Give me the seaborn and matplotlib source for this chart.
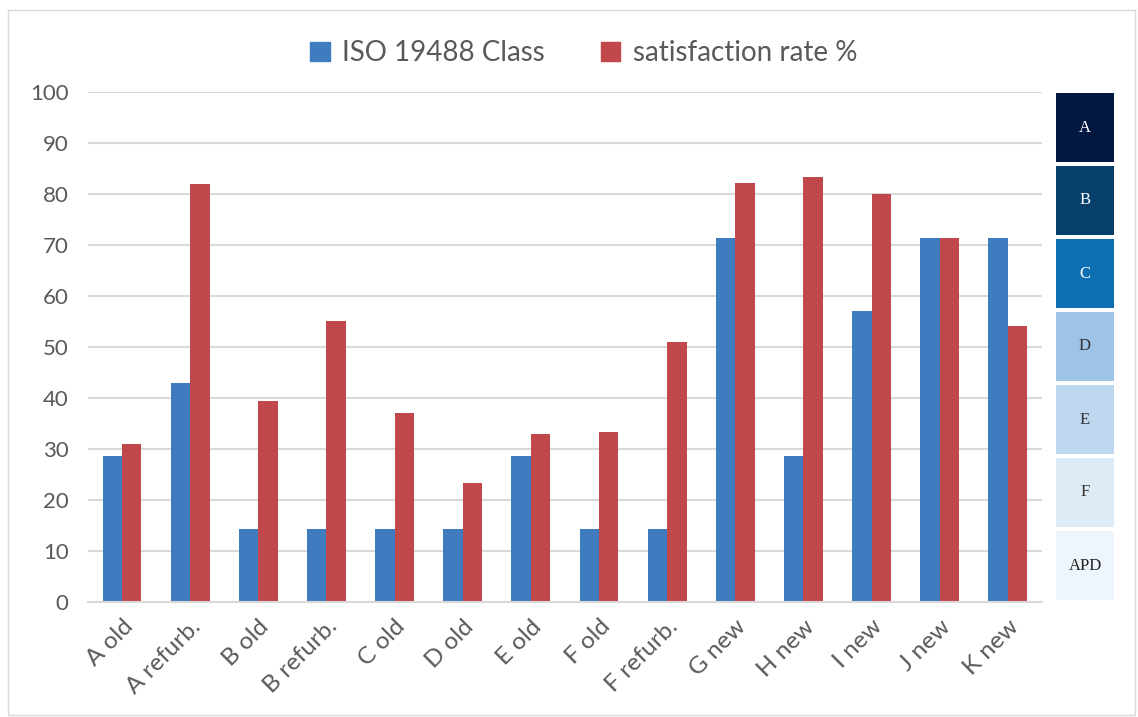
import pandas as pd
import matplotlib.pyplot as plt
import seaborn as sns
from matplotlib.patches import Rectangle, Patch

# data
buildings = ["A old", "A refurb.", "B old", "B refurb.", "C old", "D old", "E old",
             "F old", "F refurb.", "G new", "H new", "I new", "J new", "K new"]
iso_class = [28.6, 42.9, 14.3, 14.3, 14.3, 14.3, 28.6, 14.3, 14.3, 71.4, 28.6, 57.1, 71.4, 71.4]
satisfaction = [31.0, 82.0, 39.5, 55.0, 37.1, 23.3, 33.0, 33.3, 51.0, 82.1, 83.3, 80.0, 71.4, 54.2]
series_names = ["ISO 19488 Class", "satisfaction rate %"]
class_labels = ["A", "B", "C", "D", "E", "F", "APD"]
class_colors = ["#03183F", "#073F6B", "#0E6FB2", "#9DC3E6", "#BDD7EE", "#DDEBF7", "#EEF5FC"]
class_text = ["white", "white", "white", "#333333", "#333333", "#333333", "#222222"]

df = pd.DataFrame({
    "Building": buildings * 2,
    "Value": iso_class + satisfaction,
    "Series": [series_names[0]] * len(buildings) + [series_names[1]] * len(buildings),
})

sns.set_style("white")
plt.rcParams["font.family"] = ["Lato", "DejaVu Sans"]
grey = "#595959"

fig = plt.figure(figsize=(11.38, 7.17), dpi=100)
ax = fig.add_axes([0.0773, 0.1604, 0.8383, 0.7113])

palette = {series_names[0]: "#3F7BBF", series_names[1]: "#C0474A"}
sns.barplot(data=df, x="Building", y="Value", hue="Series", palette=palette,
            width=0.57, saturation=1, legend=False, linewidth=0, ax=ax)

ax.set_ylim(0, 100)
ax.set_yticks(range(0, 101, 10))
ax.set_xlim(-0.5, len(buildings) - 0.5)
ax.yaxis.grid(True, color="#D9D9D9", linewidth=1.5)
ax.set_axisbelow(True)
for s in ["top", "right", "left"]:
    ax.spines[s].set_visible(False)
ax.spines["bottom"].set_color("#D9D9D9")
ax.spines["bottom"].set_linewidth(1.5)
ax.tick_params(axis="x", length=0, labelsize=17.5, labelcolor=grey, pad=10)
ax.tick_params(axis="y", length=0, labelsize=16, labelcolor=grey, pad=14)
plt.setp(ax.get_xticklabels(), rotation=45, ha="right", rotation_mode="anchor")
ax.set_xlabel("")
ax.set_ylabel("")

# legend on top
handles = [Patch(color=palette[n]) for n in series_names]
fig.legend(handles, series_names, loc="center", bbox_to_anchor=(0.513, 0.926), ncol=2,
           frameon=False, fontsize=20, labelcolor=grey, handlelength=0.7, handleheight=0.7,
           columnspacing=2.0, handletextpad=0.45)

# class scale boxes at the right
top_px, step_px, gap_px = 93, 73, 4
for i, (lab, col, tc) in enumerate(zip(class_labels, class_colors, class_text)):
    y0 = top_px + i * step_px
    h = step_px - gap_px
    fig.patches.append(Rectangle((1056 / 1138, 1 - (y0 + h) / 717), 58 / 1138, h / 717,
                                 transform=fig.transFigure, facecolor=col, edgecolor="none"))
    fig.text(1085 / 1138, 1 - (y0 + h / 2) / 717, lab, ha="center", va="center",
             color=tc, fontsize=12, family="Liberation Serif")

# light frame around chart
fig.patches.append(Rectangle((8 / 1138, 2 / 717), 1127 / 1138, 705 / 717, transform=fig.transFigure,
                             facecolor="none", edgecolor="#D9D9D9", linewidth=1))

fig.savefig("out.png", dpi=100)
